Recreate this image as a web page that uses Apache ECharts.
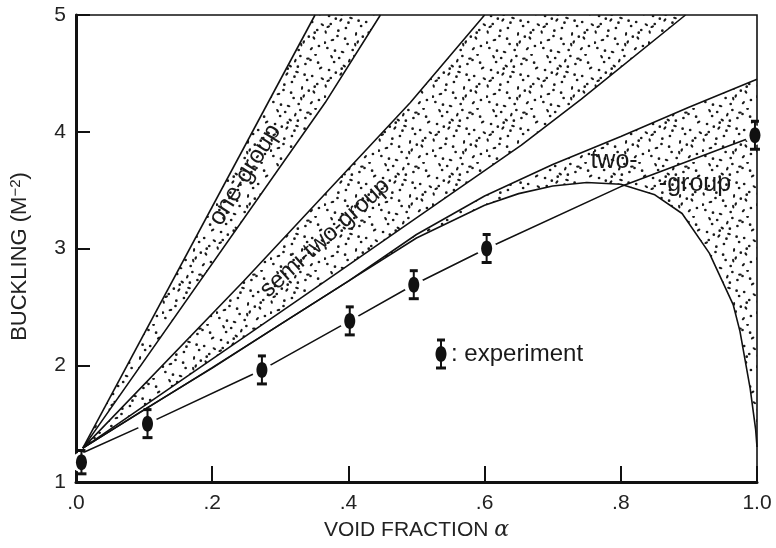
<!DOCTYPE html>
<html>
<head>
<meta charset="utf-8">
<script src="https://cdn.jsdelivr.net/npm/echarts@6/dist/echarts.min.js"></script>
<style>
html,body{margin:0;padding:0;background:#fff;}
#chart{width:776px;height:548px;}
</style>
</head>
<body>
<div id="chart"></div>
<script>
// ---------- data ----------
const xTickLabels = ['.0', '.2', '.4', '.6', '.8', '1.0'];
const yTickLabels = ['1', '2', '3', '4', '5'];

// boundary curves [void fraction, buckling]
const oneGroupUpper = [[0.01, 1.29], [0.351, 5.0]];
const oneGroupLower = [[0.01, 1.29], [0.366, 4.25], [0.447, 5.0]];
const semiTwoUpper  = [[0.01, 1.29], [0.246, 2.72], [0.491, 4.25], [0.60, 5.0]];
const semiTwoLower  = [[0.01, 1.29], [0.329, 2.57], [0.654, 3.885], [0.742, 4.28], [0.895, 5.0]];
const twoGroupUpper = [[0.01, 1.29], [0.2, 1.98], [0.4, 2.72], [0.5, 3.12], [0.6, 3.45], [0.7, 3.72], [0.8, 3.96], [0.9, 4.21], [1.0, 4.45]];
const twoGroupDome  = [[0.01, 1.29], [0.1, 1.62], [0.2, 1.975], [0.3, 2.35], [0.4, 2.72], [0.5, 3.09], [0.6, 3.37], [0.65, 3.47], [0.7, 3.535], [0.75, 3.565], [0.8, 3.55], [0.85, 3.46], [0.89, 3.3], [0.93, 2.96], [0.965, 2.52], [0.975, 2.29], [0.99, 1.8], [0.998, 1.45], [1.0, 1.3]];

// experiment
const expX   = [0.008, 0.105, 0.273, 0.402, 0.496, 0.603, 0.997];
const expY   = [1.17, 1.50, 1.96, 2.38, 2.69, 3.00, 3.97];
const expErr = [0.10, 0.12, 0.12, 0.12, 0.12, 0.12, 0.12];
const expLine = [[0.01, 1.25], [0.105, 1.50], [0.273, 1.96], [0.402, 2.38], [0.496, 2.69], [0.603, 3.00], [0.80, 3.53], [1.0, 3.97]];

// ---------- stipple pattern ----------
function halton(i, b) { let f = 1, r = 0; while (i > 0) { f /= b; r += f * (i % b); i = Math.floor(i / b); } return r; }
function makeDots() {
  const S = 54;
  const c = document.createElement('canvas');
  c.width = S; c.height = S;
  const g = c.getContext('2d');
  g.fillStyle = '#1a1a1a';
  for (let i = 1; i <= 46; i++) {
    const x = halton(i, 2) * S, y = halton(i, 3) * S;
    const s = halton(i, 5);
    g.beginPath();
    if (s < 0.35) g.ellipse(x, y, 1.1, 1.9, s * 9, 0, Math.PI * 2);
    else g.arc(x, y, 1.35, 0, Math.PI * 2);
    g.fill();
  }
  return c;
}
const dotPattern = { image: makeDots(), repeat: 'repeat' };

const FONT = 'Liberation Sans, Arial, Helvetica, sans-serif';

function markerShapes(cx, cy, top, bot) {
  return [
    { type: 'circle', shape: { cx: cx, cy: cy, r: 10 }, style: { fill: '#fff' } },
    { type: 'line', shape: { x1: cx, y1: top, x2: cx, y2: bot }, style: { stroke: '#111', lineWidth: 2 } },
    { type: 'line', shape: { x1: cx - 4, y1: top, x2: cx + 4, y2: top }, style: { stroke: '#111', lineWidth: 3 } },
    { type: 'line', shape: { x1: cx - 5, y1: bot, x2: cx + 5, y2: bot }, style: { stroke: '#111', lineWidth: 3 } },
    { type: 'ellipse', shape: { cx: cx, cy: cy, rx: 5.5, ry: 8 }, style: { fill: '#111' } }
  ];
}

function bandSeries(upper, lower) {
  return {
    type: 'custom',
    clip: true,
    silent: true,
    z: 1,
    data: [[0.5, 3]],
    renderItem: function (params, api) {
      const pts = upper.map(p => api.coord(p)).concat(lower.slice().reverse().map(p => api.coord(p)));
      return { type: 'polygon', shape: { points: pts }, style: { fill: dotPattern, stroke: null } };
    }
  };
}
function lineSeries(pts) {
  return {
    type: 'line', data: pts, symbol: 'none', silent: true, z: 3,
    lineStyle: { color: '#111', width: 1.6 }
  };
}

const chart = echarts.init(document.getElementById('chart'), null, { renderer: 'canvas' });
const option = {
  animation: false,
  backgroundColor: '#fff',
  grid: { left: 71, right: 19, top: 15, bottom: 66, show: true, borderColor: '#111', borderWidth: 1.6, backgroundColor: 'transparent' },
  xAxis: {
    type: 'value', min: 0, max: 1, interval: 0.2,
    name: 'VOID FRACTION {a|α}', nameLocation: 'middle', nameGap: 35,
    nameTextStyle: { fontSize: 21, color: '#222', fontFamily: FONT, rich: { a: { fontSize: 22, fontStyle: 'italic', fontFamily: 'DejaVu Serif, serif', color: '#222' } } },
    axisLine: { show: true, onZero: false, lineStyle: { color: '#111', width: 3 } },
    axisTick: { show: true, inside: true, length: 16, lineStyle: { color: '#111', width: 2 } },
    splitLine: { show: false },
    axisLabel: { formatter: v => xTickLabels[Math.round(v * 5)], fontSize: 21, color: '#222', margin: 11, fontFamily: FONT }
  },
  yAxis: {
    type: 'value', min: 1, max: 5, interval: 1,
    name: 'BUCKLING (M{s|−2})', nameLocation: 'middle', nameGap: 44, nameRotate: 90,
    nameTextStyle: { fontSize: 22, color: '#222', fontFamily: FONT, padding: [0, 16, 0, 0],
      rich: { s: { fontSize: 15, verticalAlign: 'top', padding: [0, 0, 9, 0], color: '#222', fontFamily: FONT } } },
    axisLine: { show: true, onZero: false, lineStyle: { color: '#111', width: 3 } },
    axisTick: { show: true, inside: true, length: 14, lineStyle: { color: '#111', width: 2 } },
    splitLine: { show: false },
    axisLabel: { formatter: v => yTickLabels[Math.round(v - 1)], fontSize: 21, color: '#222', margin: 10, fontFamily: FONT }
  },
  series: [
    bandSeries(oneGroupUpper, oneGroupLower),
    bandSeries(semiTwoUpper, semiTwoLower),
    bandSeries(twoGroupUpper, twoGroupDome),
    lineSeries(oneGroupUpper),
    lineSeries(oneGroupLower),
    lineSeries(semiTwoUpper),
    lineSeries(semiTwoLower),
    lineSeries(twoGroupUpper),
    lineSeries(twoGroupDome),
    lineSeries(expLine),
    {
      type: 'custom', clip: false, silent: true, z: 5,
      data: expX.map((x, i) => [x, expY[i], expErr[i]]),
      renderItem: function (params, api) {
        const x = api.value(0), y = api.value(1), e = api.value(2);
        const c = api.coord([x, y]);
        const t = api.coord([x, y + e]);
        const b = api.coord([x, y - e]);
        return { type: 'group', children: markerShapes(c[0], c[1], t[1], b[1]) };
      }
    }
  ],
  graphic: [
    { type: 'text', x: 245, y: 175, rotation: 58 * Math.PI / 180, z: 10,
      style: { text: 'one-group', fill: '#1a1a1a', font: '25px ' + FONT, textAlign: 'center', textVerticalAlign: 'middle' } },
    { type: 'text', x: 325, y: 238, rotation: 42 * Math.PI / 180, z: 10,
      style: { text: 'semi-two-group', fill: '#1a1a1a', font: '24px ' + FONT, textAlign: 'center', textVerticalAlign: 'middle' } },
    { type: 'text', x: 614, y: 161, z: 10,
      style: { text: 'two-', fill: '#1a1a1a', font: '25px ' + FONT, textAlign: 'center', textVerticalAlign: 'middle' } },
    { type: 'text', x: 695, y: 184, z: 10,
      style: { text: '-group', fill: '#1a1a1a', font: '25px ' + FONT, textAlign: 'center', textVerticalAlign: 'middle' } },
    { type: 'group', z: 10, children: markerShapes(441, 354, 340, 368) },
    { type: 'text', x: 451, y: 354, z: 10,
      style: { text: ': experiment', fill: '#1a1a1a', font: '24px ' + FONT, textAlign: 'left', textVerticalAlign: 'middle' } }
  ]
};
chart.setOption(option);
</script>
</body>
</html>
